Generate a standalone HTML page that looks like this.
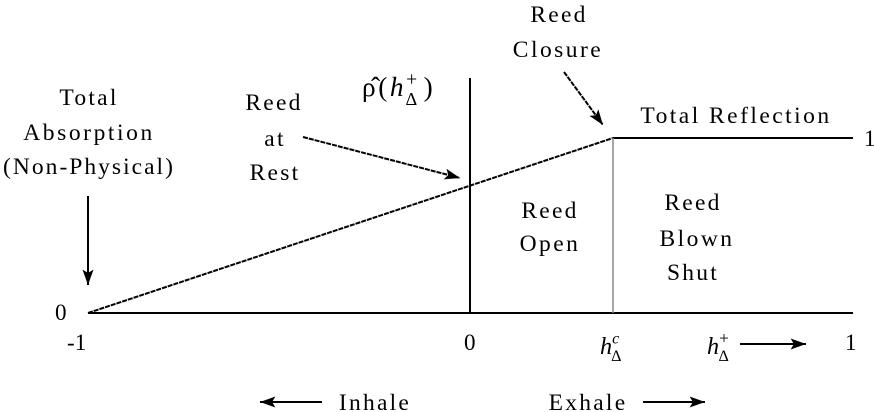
<!DOCTYPE html>
<html><head><meta charset="utf-8"><style>
html,body{margin:0;padding:0;background:#fff;}
svg{display:block;}
text{font-family:"Liberation Serif",serif;font-size:21px;fill:#000;}
</style></head><body>
<svg width="874" height="412" viewBox="0 0 874 412" xmlns="http://www.w3.org/2000/svg">
<defs>
<marker id="ah" viewBox="0 0 14 10" refX="14" refY="5" markerWidth="16" markerHeight="11" orient="auto" markerUnits="userSpaceOnUse">
<path d="M0,0 L14,5 L0,10 L3,5 Z" fill="#000"/>
</marker>
</defs>
<line x1="88" y1="313" x2="853" y2="313" stroke="#000" stroke-width="2"/>
<line x1="470" y1="78" x2="470" y2="313" stroke="#000" stroke-width="2"/>
<line x1="88" y1="313" x2="613" y2="138" stroke="#000" stroke-width="2" stroke-dasharray="5,1"/>
<line x1="613" y1="138" x2="853" y2="138" stroke="#000" stroke-width="2"/>
<line x1="613" y1="138" x2="613" y2="313" stroke="#888" stroke-width="1.5"/>
<line x1="88" y1="196" x2="88" y2="285" stroke="#000" stroke-width="2" marker-end="url(#ah)"/>
<line x1="303" y1="137" x2="460" y2="178" stroke="#000" stroke-width="2" stroke-dasharray="5,1" marker-end="url(#ah)"/>
<line x1="564" y1="72" x2="603" y2="125" stroke="#000" stroke-width="2" stroke-dasharray="5,1" marker-end="url(#ah)"/>
<line x1="740" y1="344" x2="806" y2="344" stroke="#000" stroke-width="2" marker-end="url(#ah)"/>
<line x1="643" y1="402" x2="705" y2="402" stroke="#000" stroke-width="2" marker-end="url(#ah)"/>
<line x1="322" y1="402" x2="260" y2="402" stroke="#000" stroke-width="2" marker-end="url(#ah)"/>

<text transform="translate(89,105) scale(1.12)" text-anchor="middle" letter-spacing="2">Total</text>
<text transform="translate(89,140) scale(1.12)" text-anchor="middle" letter-spacing="2.3">Absorption</text>
<text transform="translate(89,174) scale(1.12)" text-anchor="middle" letter-spacing="1.8">(Non-Physical)</text>
<text transform="translate(274,110) scale(1.12)" text-anchor="middle" letter-spacing="2">Reed</text>
<text transform="translate(275,146) scale(1.12)" text-anchor="middle" letter-spacing="2">at</text>
<text transform="translate(275,180) scale(1.12)" text-anchor="middle" letter-spacing="2">Rest</text>
<text transform="translate(559,22) scale(1.12)" text-anchor="middle" letter-spacing="2">Reed</text>
<text transform="translate(558,57) scale(1.12)" text-anchor="middle" letter-spacing="2.2">Closure</text>
<text transform="translate(362,96) scale(1.3)" letter-spacing="2">ρ̂(<tspan font-style="italic">h</tspan><tspan font-size="15" dy="-8">+</tspan><tspan font-size="14" dx="-11" dy="15">Δ</tspan><tspan dy="-7" dx="3">)</tspan></text>
<text transform="translate(736,123) scale(1.12)" text-anchor="middle" letter-spacing="2.2">Total Reflection</text>
<text transform="translate(864,146) scale(1.1)">1</text>
<text transform="translate(550,218) scale(1.12)" text-anchor="middle" letter-spacing="2">Reed</text>
<text transform="translate(550,251) scale(1.12)" text-anchor="middle" letter-spacing="2.2">Open</text>
<text transform="translate(693,210) scale(1.12)" text-anchor="middle" letter-spacing="2">Reed</text>
<text transform="translate(697,246) scale(1.12)" text-anchor="middle" letter-spacing="2.2">Blown</text>
<text transform="translate(693,280) scale(1.12)" text-anchor="middle" letter-spacing="2">Shut</text>
<text transform="translate(55,320) scale(1.1)">0</text>
<text transform="translate(67,350) scale(1.1)">-1</text>
<text transform="translate(464,350) scale(1.1)">0</text>
<text transform="translate(600,354) scale(1.15)" font-style="italic">h<tspan font-size="14" dy="-9">c</tspan><tspan font-size="14" font-style="normal" dx="-7" dy="15">Δ</tspan></text>
<text transform="translate(707,354) scale(1.15)" font-style="italic">h<tspan font-size="15" font-style="normal" dy="-9">+</tspan><tspan font-size="14" font-style="normal" dx="-9" dy="15">Δ</tspan></text>
<text transform="translate(845,350) scale(1.1)">1</text>
<text transform="translate(375,410) scale(1.12)" text-anchor="middle" letter-spacing="2">Inhale</text>
<text transform="translate(588,410) scale(1.12)" text-anchor="middle" letter-spacing="2">Exhale</text>
</svg>
</body></html>
